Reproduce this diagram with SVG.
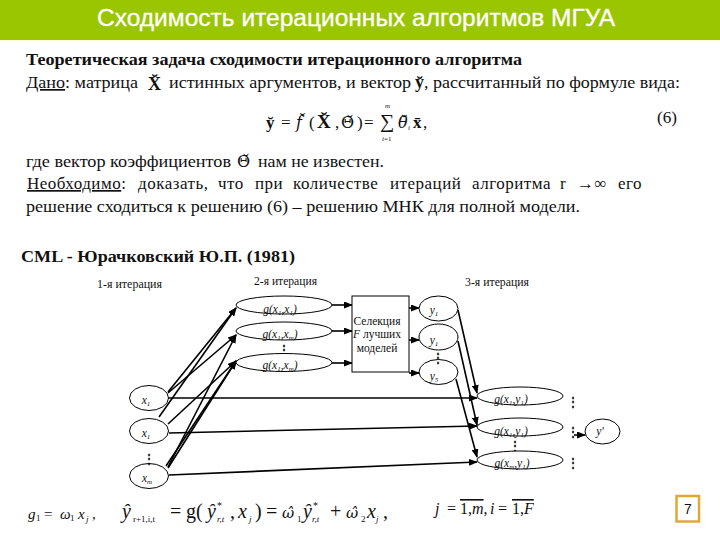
<svg xmlns="http://www.w3.org/2000/svg" width="720" height="540" viewBox="0 0 720 540">
<defs>
<marker id="a" markerWidth="9" markerHeight="7" refX="8" refY="3.5" orient="auto" markerUnits="userSpaceOnUse"><path d="M0 0L9 3.5L0 7Z" fill="#000"/></marker>
</defs>
<style>
text{font-family:"Liberation Serif","Times New Roman",serif;fill:#111}
.t{font-size:17px}
.b{font-weight:bold}
.s{font-size:11.5px}
.i{font-style:italic;font-size:11.5px;text-anchor:middle}
.m{font-size:7px}
.n{fill:#fff;stroke:#000;stroke-width:1}
.c{fill:none;stroke:#000;stroke-width:1.6;marker-end:url(#a)}
.d{font-size:12px;font-weight:bold;text-anchor:middle}
.dj{font-family:"DejaVu Serif",serif}
</style>
<rect width="720" height="540" fill="#fff"/>
<rect y="40" width="720" height="3" fill="#ffffec"/>
<rect width="720" height="40" fill="#99c600"/>
<text x="97" y="26" textLength="518" lengthAdjust="spacingAndGlyphs" style="font-family:'Liberation Sans',Arial,sans-serif;font-size:23px;fill:#fff;stroke:#fff;stroke-width:0.3">Сходимость итерационных алгоритмов МГУА</text>
<g id="body">
<text class="t b" x="26" y="65" textLength="496" lengthAdjust="spacingAndGlyphs">Теоретическая задача сходимости итерационного алгоритма</text>
<text class="t" x="26" y="88" textLength="112" lengthAdjust="spacingAndGlyphs"><tspan text-decoration="underline">Дано</tspan>: матрица</text>
<text class="b" x="148" y="90" style="font-size:18px">X̆</text>
<text class="t" x="169" y="88" textLength="242" lengthAdjust="spacingAndGlyphs">истинных аргументов, и вектор</text>
<text class="b" x="415" y="88" style="font-size:18px">y̆</text>
<text class="t" x="424" y="88" textLength="256" lengthAdjust="spacingAndGlyphs">, рассчитанный по формуле вида:</text>
<text y="128" style="font-size:17px"><tspan x="266" class="b">y̆</tspan><tspan x="281">=</tspan><tspan x="296" class="dj" font-style="italic" font-size="16px">f̆</tspan><tspan x="309">(</tspan><tspan x="317" class="b" font-size="19px">X̆</tspan><tspan x="335">,</tspan><tspan x="341" class="dj" font-size="16px">Θ̆</tspan><tspan x="357">)</tspan><tspan x="364">=</tspan></text>
<text x="380" y="128" style="font-size:20px">∑</text>
<text x="385" y="108" class="m" font-style="italic">m</text>
<text x="382" y="141" class="m"><tspan font-style="italic">i</tspan>=1</text>
<text y="128" style="font-size:17px"><tspan x="398" class="dj" font-style="italic" font-size="16px">θ̆</tspan><tspan x="408" dy="2" font-size="7px" font-style="italic">i</tspan><tspan x="413" dy="-2" class="b">x̄</tspan><tspan x="423">,</tspan></text>
<text class="t" x="657" y="123" textLength="20" lengthAdjust="spacingAndGlyphs">(6)</text>
<text class="t" x="26" y="167" textLength="205" lengthAdjust="spacingAndGlyphs">где вектор коэффициентов</text>
<text class="dj" x="237" y="167" style="font-size:16px">Θ̆</text>
<text class="t" x="258" y="167" textLength="126" lengthAdjust="spacingAndGlyphs">нам не известен.</text>
<text class="t" y="189" letter-spacing="0.5"><tspan x="27" text-decoration="underline">Необходимо</tspan><tspan>: </tspan><tspan x="138">доказать, </tspan><tspan x="218">что </tspan><tspan x="255">при </tspan><tspan x="293">количестве </tspan><tspan x="390">итераций </tspan><tspan x="472">алгоритма </tspan><tspan x="560">r </tspan><tspan x="577">→∞ </tspan><tspan x="618">его</tspan></text>
<text class="t" x="26" y="212" textLength="554" lengthAdjust="spacingAndGlyphs">решение сходиться к решению (6) – решению МНК для полной модели.</text>
<text class="t b" x="21" y="262" textLength="274" lengthAdjust="spacingAndGlyphs">CML - Юрачковский Ю.П. (1981)</text>
<text class="s" x="97" y="288" textLength="65" lengthAdjust="spacingAndGlyphs">1-я итерация</text>
<text class="s" x="254" y="285" textLength="63" lengthAdjust="spacingAndGlyphs">2-я итерация</text>
<text class="s" x="465" y="286" textLength="64" lengthAdjust="spacingAndGlyphs">3-я итерация</text>
</g>
<g id="connectors">
<path class="c" d="M168 392L236 308"/>
<path class="c" d="M168 393L236 335"/>
<path class="c" d="M159 417L236 308"/>
<path class="c" d="M168 424L236 361"/>
<path class="c" d="M168 467L236 335"/>
<path class="c" d="M168 468L236 361"/>
<path class="c" d="M166 466L236 361"/>
<path class="c" d="M331 305H352"/>
<path class="c" d="M331 331H352"/>
<path class="c" d="M331 363H352"/>
<path class="c" d="M409 308H419"/>
<path class="c" d="M409 340H419"/>
<path class="c" d="M409 373H419"/>
<path class="c" d="M458 310L477 393"/>
<path class="c" d="M458 341L477 425"/>
<path class="c" d="M456 379L477 457"/>
<path class="c" d="M168 398H477"/>
<path class="c" d="M169 433L477 426"/>
<path class="c" d="M169 475L477 462"/>
<path class="c" d="M574 435H585"/>
</g>
<g id="n-x1"><ellipse class="n" cx="149" cy="398" rx="19.5" ry="12.5"/><text class="i" x="146" y="404">x<tspan class="m" dy="2">1</tspan></text></g>
<g id="n-x2"><ellipse class="n" cx="149" cy="431" rx="19.5" ry="12.5"/><text class="i" x="146" y="437">x<tspan class="m" dy="2">1</tspan></text></g>
<g id="n-xm"><ellipse class="n" cx="149" cy="476" rx="19.5" ry="12.5"/><text class="i" x="147" y="482">x<tspan class="m" dy="2">m</tspan></text></g>
<text class="d" x="149" y="463">⋮</text>
<g id="n-g1"><ellipse class="n" cx="284" cy="305" rx="48" ry="9"/><text class="i" x="280" y="313">g(x<tspan class="m" dy="2">1</tspan><tspan dy="-2">,x</tspan><tspan class="m" dy="2">1</tspan><tspan dy="-2">)</tspan></text></g>
<g id="n-g2"><ellipse class="n" cx="284" cy="331" rx="48" ry="9"/><text class="i" x="280" y="338">g(x<tspan class="m" dy="2">1</tspan><tspan dy="-2">,x</tspan><tspan class="m" dy="2">m</tspan><tspan dy="-2">)</tspan></text></g>
<text class="d" x="284" y="354">⋮</text>
<g id="n-g3"><ellipse class="n" cx="284" cy="362.500" rx="48" ry="9"/><text class="i" x="280" y="369">g(x<tspan class="m" dy="2">1</tspan><tspan dy="-2">,x</tspan><tspan class="m" dy="2">m</tspan><tspan dy="-2">)</tspan></text></g>
<g id="n-sel"><rect class="n" x="352" y="296" width="57" height="76"/><text class="s" x="377" y="325" text-anchor="middle">Селекция</text><text class="s" x="377" y="338" text-anchor="middle"><tspan font-style="italic">F</tspan> лучших</text><text class="s" x="377" y="352" text-anchor="middle">моделей</text></g>
<g id="n-y1"><ellipse class="n" cx="438.500" cy="308.500" rx="19.500" ry="12.500"/><text class="i" x="434" y="314">y<tspan class="m" dy="2">1</tspan></text></g>
<g id="n-y2"><ellipse class="n" cx="438.500" cy="337" rx="19.500" ry="13"/><text class="i" x="434" y="344">y<tspan class="m" dy="2">1</tspan></text></g>
<g id="n-y3"><ellipse class="n" cx="438.500" cy="372" rx="19.500" ry="12.500"/><text class="i" x="434" y="380">y<tspan class="m" dy="2">5</tspan></text></g>
<text class="d" x="438" y="362">⋮</text>
<g id="n-h1"><ellipse class="n" cx="520" cy="396" rx="43" ry="9"/><text class="i" x="511" y="403">g(x<tspan class="m" dy="2">1</tspan><tspan dy="-2">,y</tspan><tspan class="m" dy="2">1</tspan><tspan dy="-2">)</tspan></text></g>
<g id="n-h2"><ellipse class="n" cx="520" cy="427" rx="43" ry="9"/><text class="i" x="511" y="435">g(x<tspan class="m" dy="2">1</tspan><tspan dy="-2">,y</tspan><tspan class="m" dy="2">1</tspan><tspan dy="-2">)</tspan></text></g>
<text class="d" x="515" y="450">⋮</text>
<g id="n-h3"><ellipse class="n" cx="520" cy="460" rx="43" ry="9"/><text class="i" x="512" y="467">g(x<tspan class="m" dy="2">m</tspan><tspan dy="-2">,y</tspan><tspan class="m" dy="2">1</tspan><tspan dy="-2">)</tspan></text></g>
<text class="d" x="573" y="406">⋮</text>
<text class="d" x="573" y="436">⋮</text>
<text class="d" x="573" y="467">⋮</text>
<g id="n-yp"><ellipse class="n" cx="602.500" cy="431.500" rx="17.500" ry="12.500"/><text class="i" x="600" y="435">y'</text></g>
<g id="formula">
<text y="519" style="font-size:15px;font-style:italic"><tspan x="28">g</tspan><tspan x="36" dy="2" font-size="9px" font-style="normal">1</tspan><tspan x="44" dy="-2" font-style="normal">=</tspan><tspan x="60">ω</tspan><tspan x="70" dy="2" font-size="9px" font-style="normal">1</tspan><tspan x="78" dy="-2">x</tspan><tspan x="86" dy="3" font-size="9px">j</tspan><tspan x="92" dy="-3" font-style="normal">,</tspan></text>
<text y="518" style="font-size:20px;font-style:italic"><tspan x="122">ŷ</tspan><tspan x="133" dy="4" font-size="9px" font-style="normal">r+1,i,t</tspan><tspan x="170" dy="-4" font-style="normal">=</tspan><tspan x="186" font-style="normal">g(</tspan><tspan x="207">ŷ</tspan><tspan x="217" dy="-9" font-size="10px" font-style="normal">*</tspan><tspan x="217" dy="13" font-size="9px">r,t</tspan><tspan x="230" dy="-4" font-style="normal">,</tspan><tspan x="238">x</tspan><tspan x="249" dy="4" font-size="9px">j</tspan><tspan x="255" dy="-4" font-style="normal">)</tspan><tspan x="266" font-style="normal">=</tspan><tspan x="282" class="dj" font-size="15px">ω̂</tspan><tspan x="297" dy="4" font-size="9px" font-style="normal">1</tspan><tspan x="303" dy="-4">ŷ</tspan><tspan x="313" dy="-9" font-size="10px" font-style="normal">*</tspan><tspan x="312" dy="13" font-size="9px">r,t</tspan><tspan x="330" dy="-4" font-style="normal">+</tspan><tspan x="346" class="dj" font-size="15px">ω̂</tspan><tspan x="361" dy="4" font-size="9px" font-style="normal">2</tspan><tspan x="367" dy="-4">x</tspan><tspan x="376" dy="4" font-size="9px">j</tspan><tspan x="383" dy="-4" font-style="normal">,</tspan></text>
<text y="514" style="font-size:16px;font-style:italic"><tspan x="435">j</tspan><tspan x="447" font-style="normal">=</tspan><tspan x="460" text-decoration="overline" font-style="normal">1,</tspan><tspan text-decoration="overline">m</tspan><tspan font-style="normal">,</tspan><tspan x="490">i</tspan><tspan x="498" font-style="normal">=</tspan><tspan x="512" text-decoration="overline" font-style="normal">1,</tspan><tspan text-decoration="overline">F</tspan></text>
</g>
<g id="page"><rect x="676.500" y="496" width="22.500" height="25.500" fill="#fff" stroke="#dfa83a" stroke-width="2.500"/><text x="688" y="514" text-anchor="middle" style="font-family:'Liberation Sans',Arial,sans-serif;font-size:14px">7</text></g>
</svg>
